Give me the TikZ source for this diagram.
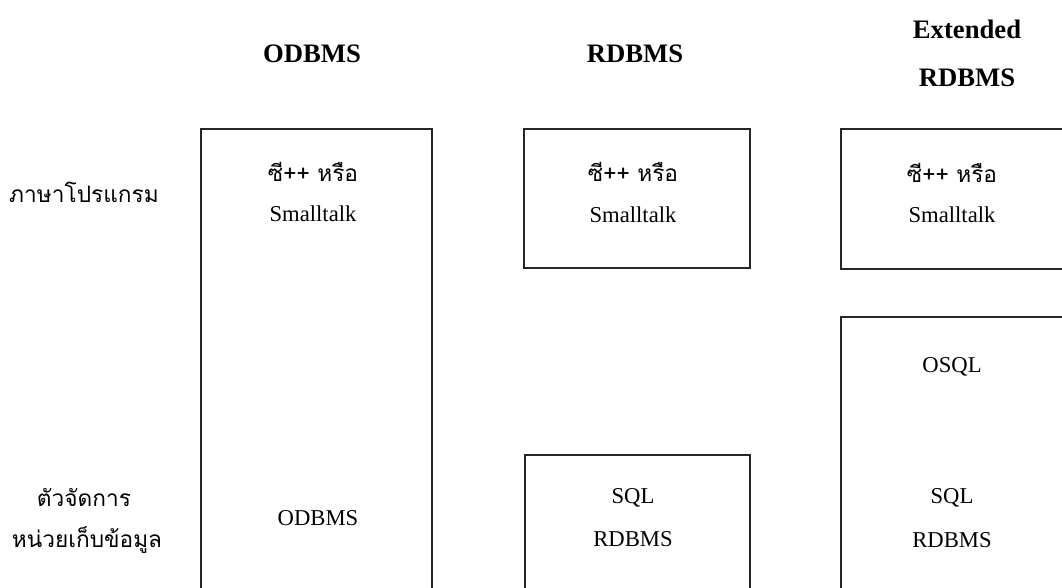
\documentclass[tikz,border=0pt]{standalone}
\usepackage{fontspec}
\setmainfont{Liberation Serif}
\newfontfamily\thaifont[Script=Thai]{Loma}
\tikzset{
  frame/.style={draw=black!85, line width=1.4pt},
  head/.style={font=\fontsize{20}{24}\selectfont\bfseries, inner sep=0pt},
  txt/.style={font=\fontsize{17}{20}\selectfont, inner sep=0pt},
  thai/.style={font=\fontsize{17}{20}\selectfont\thaifont, inner sep=0pt},
}
\begin{document}
\begin{tikzpicture}[x=0.75pt,y=-0.75pt]
\useasboundingbox (0,0) rectangle (1062,588);

% column headings
\node[head] (hOD) at (312,54) {ODBMS};
\node[head] (hRD) at (635,54) {RDBMS};
\node[head] (hEx1) at (967,29) {Extended};
\node[head] (hEx2) at (967,78) {RDBMS};

% row labels
\node[thai] (lang) at (84,192) {ภาษาโปรแกรม};
\node[thai] (mgr1) at (84,497) {ตัวจัดการ};
\node[thai] (mgr2) at (87,540) {หน่วยเก็บข้อมูล};

% ODBMS column: one tall box, open at the bottom
\draw[frame] (201,588) -- (201,129) -- (432,129) -- (432,588);
\node[thai] (od1) at (313,172) {ซี++ หรือ};
\node[txt] (od2) at (313,214) {Smalltalk};
\node[txt] (od3) at (318,518) {ODBMS};

% RDBMS column
\draw[frame] (524,129) rectangle (750,268);
\node[thai] (rd1) at (633,172) {ซี++ หรือ};
\node[txt] (rd2) at (633,215) {Smalltalk};
\draw[frame] (525,588) -- (525,455) -- (750,455) -- (750,588);
\node[txt] (rd3) at (633,498) {SQL};
\node[txt] (rd4) at (633,539) {RDBMS};

% Extended RDBMS column: boxes run off the right edge
\draw[frame] (1062,129) -- (841,129) -- (841,269) -- (1062,269);
\node[thai] (ex1) at (952,173) {ซี++ หรือ};
\node[txt] (ex2) at (952,215) {Smalltalk};
\draw[frame] (841,588) -- (841,317) -- (1062,317);
\node[txt] (ex3) at (952,367) {OSQL};
\node[txt] (ex4) at (952,498) {SQL};
\node[txt] (ex5) at (952,540) {RDBMS};
\end{tikzpicture}
\end{document}
